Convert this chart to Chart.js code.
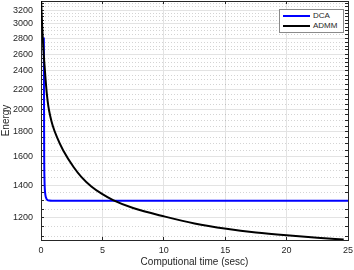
<!DOCTYPE html>
<html>
<head>
<meta charset="utf-8">
<script src="https://cdn.jsdelivr.net/npm/chart.js@4"></script>
<style>
  body { margin: 0; background: #fff; }
  #wrap { position: relative; width: 354px; height: 270px; }
  #leyenda { position: absolute; left: 279px; top: 9px; width: 63px; height: 22px;
    border: 1px solid #8a8a8a; background: #fff; font: 8px "Liberation Sans", Arial, sans-serif; color: #262626; }
  #leyenda .row { position: absolute; left: 0; height: 10px; }
  #leyenda .sw { position: absolute; left: 3px; width: 27px; height: 2px; top: 4px; }
  #leyenda .tx { position: absolute; left: 33px; top: 0; line-height: 10px; white-space: nowrap; }
</style>
</head>
<body>
<div id="wrap">
  <canvas id="chart-energia"></canvas>
  <div id="leyenda"></div>
</div>
<script>
// ── DATOS ──
var tiempoDCA  = [0.23, 0.24, 0.25, 0.26, 0.28, 0.31, 0.36, 0.43, 0.52, 0.66, 0.9, 25];
var energiaDCA = [2810, 2350, 1900, 1600, 1450, 1375, 1335, 1315, 1305, 1301, 1300, 1300];

var tiempoADMM  = [0, 0.05, 0.1, 0.18, 0.26, 0.36, 0.47, 0.6, 0.75, 0.95, 1.3, 1.8, 2.65, 3.3, 4.1, 5, 5.87, 7.5, 10.1, 12.5, 15.1, 17.5, 20, 22.5, 24.65];
var energiaADMM = [3420, 3150, 2946, 2700, 2514, 2330, 2160, 2030, 1940, 1855, 1755, 1650, 1525, 1454, 1391, 1341, 1304, 1256, 1206, 1168, 1139, 1119, 1104, 1092, 1082];

var yTicksMayores = [1200, 1400, 1600, 1800, 2000, 2200, 2400, 2600, 2800, 3000, 3200];
var yTicksMenores = [1100, 1150, 1250, 1300, 1350, 1450, 1500, 1550, 1650, 1700, 1750, 1850, 1900, 1950,
                     2050, 2100, 2150, 2250, 2300, 2350, 2450, 2500, 2550, 2650, 2700, 2750, 2850, 2900, 2950,
                     3050, 3100, 3150, 3250, 3300];
var xTicks = [0, 5, 10, 15, 20, 25];

var yMin = 1080, yMax = 3340;
var ejeColor = '#262626';
var gridColor = '#e3e3e3';
var fuente = '"Liberation Sans", Arial, sans-serif';

function pares(xs, ys) {
  return xs.map(function(x, i) { return {x: x, y: ys[i]}; });
}
function esMayor(v) { return yTicksMayores.indexOf(v) >= 0; }
function ticksY(scale) {
  scale.ticks = yTicksMayores.concat(yTicksMenores).sort(function(a,b){return a-b;})
    .map(function(v) { return {value: v}; });
}
function ticksX(scale) {
  scale.ticks = xTicks.map(function(v) { return {value: v}; });
}
// tamaño fijo de cada eje, sin relleno extra para etiquetas
function fijar(ancho, alto) {
  return function(s) {
    if (ancho !== null) s.width = ancho;
    if (alto !== null) s.height = alto;
    s.paddingLeft = 0; s.paddingRight = 0; s.paddingTop = 0; s.paddingBottom = 0;
  };
}

var series = [
  {label: 'DCA',  data: pares(tiempoDCA, energiaDCA),   borderColor: '#0000ff', order: 1},
  {label: 'ADMM', data: pares(tiempoADMM, energiaADMM), borderColor: '#000000', order: 0}
];

var chartEnergia = new Chart(document.getElementById('chart-energia'), {
  type: 'line',
  data: {datasets: series.map(function(s) {
    return {label: s.label, data: s.data, borderColor: s.borderColor, backgroundColor: s.borderColor,
            borderWidth: 2, pointRadius: 0, fill: false, tension: 0.4,
            cubicInterpolationMode: 'monotone', order: s.order};
  })},
  options: {
    responsive: true, maintainAspectRatio: false, animation: false,
    layout: {padding: 0},
    plugins: {legend: {display: false}, tooltip: {enabled: false}},
    scales: {
      x: {
        type: 'linear', position: 'bottom', min: 0, max: 25,
        afterBuildTicks: ticksX,
        afterFit: fijar(null, 30),
        ticks: {color: ejeColor, font: {family: fuente, size: 9}, padding: 8, maxRotation: 0},
        grid: {color: gridColor, tickColor: ejeColor, tickLength: -3},
        border: {color: ejeColor, width: 1},
        title: {display: true, text: 'Computional time (sesc)', color: ejeColor,
                font: {family: fuente, size: 10}, padding: {top: 0, bottom: 2}}
      },
      x2: {
        type: 'linear', position: 'top', min: 0, max: 25,
        afterBuildTicks: ticksX,
        afterFit: fijar(null, 1),
        ticks: {display: false},
        grid: {drawOnChartArea: false, tickColor: ejeColor, tickLength: -3},
        border: {color: ejeColor, width: 1}
      },
      y: {
        type: 'logarithmic', position: 'left', min: yMin, max: yMax,
        afterBuildTicks: ticksY,
        afterFit: fijar(41, null),
        ticks: {color: ejeColor, font: {family: fuente, size: 9}, padding: 11, autoSkip: false,
                callback: function(v) { return esMayor(v) ? String(v) : ''; }},
        grid: {
          color: function(c) { return c.tick && !esMayor(c.tick.value) ? 'rgba(0,0,0,0.17)' : gridColor; },
          tickColor: ejeColor, tickLength: -3
        },
        border: {color: ejeColor, width: 1,
                 dash: function(c) { return c.tick && !esMayor(c.tick.value) ? [1, 2] : []; }},
        title: {display: true, text: 'Energy', color: ejeColor,
                font: {family: fuente, size: 10}, padding: {top: 0, bottom: 0}}
      },
      y2: {
        type: 'logarithmic', position: 'right', min: yMin, max: yMax,
        afterBuildTicks: ticksY,
        afterFit: fijar(6, null),
        ticks: {display: false},
        grid: {drawOnChartArea: false, tickColor: ejeColor, tickLength: -3},
        border: {color: ejeColor, width: 1}
      }
    }
  }
});

// leyenda dentro del área del gráfico
var ley = document.getElementById('leyenda');
ley.innerHTML = chartEnergia.data.datasets.map(function(ds, i) {
  return '<div class="row" style="top:' + (1 + i * 10) + 'px;width:100%">' +
         '<span class="sw" style="background:' + ds.borderColor + '"></span>' +
         '<span class="tx">' + ds.label + '</span></div>';
}).join('');
</script>
</body>
</html>
